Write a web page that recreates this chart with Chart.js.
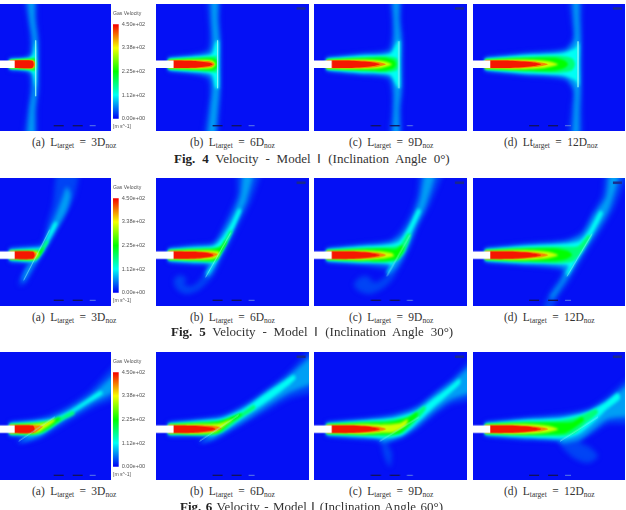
<!DOCTYPE html>
<html>
<head>
<meta charset="utf-8">
<title>Gas velocity contours</title>
<script src="https://cdn.jsdelivr.net/npm/chart.js@4/dist/chart.umd.min.js"></script>
<style>
html, body { margin: 0; padding: 0; background: #fff; overflow: hidden; width: 626px; height: 510px; }
#page { position: relative; width: 626px; height: 510px; overflow: hidden; }
.field { position: absolute; background: #0410f5; filter: blur(0.5px); }
.bar { position: absolute; }
.cap, .fig { position: absolute; font-family: "Liberation Serif", serif; color: #333; white-space: nowrap; }
.cap { font-size: 11.5px; word-spacing: 2.5px; }
.cap sub { font-size: 7.5px; vertical-align: -2px; line-height: 0; word-spacing: 0; }
.fig { font-size: 13px; word-spacing: 3.6px; }
.fig b { color: #222; }
.cb { position: absolute; font-family: "Liberation Sans", sans-serif; font-size: 5.1px; color: #555; white-space: nowrap; }
</style>
</head>
<body>
<div id="page"></div>
<script>
// contour levels of gas velocity, m/s; each field below holds one closed outline per level
// outlines are flat x,y lists, in mm from the nozzle tip
const contourLevels = [30, 70, 112, 170, 225, 320, 390, 440];

const fig4a = [
    [-5,6, 12,7, 15,14, 15,30, 13,45, 9,74, 21,74, 22,45, 24,25, 24,0, 24,-25, 22,-45, 21,-80, 9,-80, 13,-45, 15,-30, 15,-14, 12,-7, -5,-6],
    [-5,5, 12,6.5, 17,10, 18,25, 15,45, 13,74, 19,74, 20,45, 22.5,25, 23,0, 22.5,-25, 20,-45, 19,-80, 13,-80, 15,-45, 18,-25, 17,-10, 12,-6.5, -5,-5],
    [-5,4.5, 14,6, 18,9, 20,20, 21,24, 22,0, 21,-24, 20,-20, 18,-9, 14,-6, -5,-4.5],
    [-5,4.2, 15,5.5, 19,7, 21,6, 21.5,0, 21,-6, 19,-7, 15,-5.5, -5,-4.2],
    [-5,4, 16,5, 20,5, 21,0, 20,-5, 16,-5, -5,-4],
    [-5,3.8, 17,4.4, 20,3, 20.5,0, 20,-3, 17,-4.4, -5,-3.8],
    [-5,3.8, 17,4.1, 20,2.4, 20,-2.4, 17,-4.1, -5,-3.8],
    [-5,3.8, 17.5,3.6, 19,0, 17.5,-3.6, -5,-3.8]
];
const fig4b = [
    [-5,7, 20,10, 34,15, 36,30, 35,45, 34,74, 46,74, 46,45, 47,25, 47,0, 47,-25, 46,-45, 42,-80, 30,-80, 34,-45, 36,-30, 34,-15, 20,-10, -5,-7],
    [-5,6, 20,8.5, 36,12, 39,22, 38,45, 38,74, 44,74, 44,45, 46,22, 46,0, 46,-22, 44,-45, 40,-80, 34,-80, 37,-45, 39,-22, 36,-12, 20,-8.5, -5,-6],
    [-5,5.5, 20,7.5, 38,10, 42,22, 45,24, 45,0, 45,-24, 42,-24, 38,-10, 20,-7.5, -5,-5.5],
    [-5,5, 20,6.5, 38,8, 43,8, 44,0, 43,-8, 38,-8, 20,-6.5, -5,-5],
    [-5,4.5, 20,5.5, 38,6, 43,4, 43,-4, 38,-6, 20,-5.5, -5,-4.5],
    [-5,4, 20,4.6, 38,4, 42,0, 38,-4, 20,-4.6, -5,-4],
    [-5,3.9, 20,4, 38,2.6, 41,0, 38,-2.6, 20,-4, -5,-3.9],
    [-5,3.8, 20,3.4, 36,1.6, 39,0, 36,-1.6, 20,-3.4, -5,-3.8]
];
const fig4c = [
    [-5,7, 30,11, 56,15, 60,30, 60,45, 58,74, 69,74, 69,45, 71,25, 71,0, 71,-25, 69,-45, 69,-80, 58,-80, 60,-45, 60,-30, 56,-15, 30,-11, -5,-7],
    [-5,6, 30,9.5, 58,12.5, 62,25, 62,45, 61,74, 67,74, 67,45, 69,25, 69,0, 69,-25, 67,-45, 67,-80, 61,-80, 62,-45, 62,-25, 58,-12.5, 30,-9.5, -5,-6],
    [-5,5.5, 30,8.5, 58,10.5, 65,22, 68,24, 68,0, 68,-24, 65,-22, 58,-10.5, 30,-8.5, -5,-5.5],
    [-5,5, 30,7, 55,8, 65,6, 67,0, 65,-6, 55,-8, 30,-7, -5,-5],
    [-5,4.5, 30,6, 52,6.5, 62,4, 64,0, 62,-4, 52,-6.5, 30,-6, -5,-4.5],
    [-5,4.1, 30,4.8, 50,3.6, 60,0, 50,-3.6, 30,-4.8, -5,-4.1],
    [-5,3.9, 25,4, 45,2.6, 54,0, 45,-2.6, 25,-4, -5,-3.9],
    [-5,3.8, 20,3.6, 40,2, 48,0, 40,-2, 20,-3.6, -5,-3.8]
];
const fig4d = [
    [-5,7, 35,11.5, 75,16, 83,28, 81,45, 79,74, 91,74, 92,45, 92,25, 92,0, 92,-25, 92,-45, 91,-80, 79,-80, 81,-45, 83,-28, 75,-16, 35,-11.5, -5,-7],
    [-5,6, 35,10, 75,13.5, 84,24, 84,45, 83,74, 88,74, 89,45, 90,25, 90,0, 90,-25, 89,-45, 88,-80, 83,-80, 84,-45, 84,-24, 75,-13.5, 35,-10, -5,-6],
    [-5,5.5, 35,9, 72,11, 85,16, 89,22, 89,0, 89,-22, 85,-16, 72,-11, 35,-9, -5,-5.5],
    [-5,5, 35,7.5, 68,8.5, 82,6, 85,0, 82,-6, 68,-8.5, 35,-7.5, -5,-5],
    [-5,4.5, 35,6.2, 65,6.5, 75,3.5, 78,0, 75,-3.5, 65,-6.5, 35,-6.2, -5,-4.5],
    [-5,4.1, 30,4.9, 55,3.6, 68,0, 55,-3.6, 30,-4.9, -5,-4.1],
    [-5,3.9, 25,4, 48,2.4, 58,0, 48,-2.4, 25,-4, -5,-3.9],
    [-5,3.8, 20,3.6, 42,2, 51,0, 42,-2, 20,-3.6, -5,-3.8]
];
const fig5a = [
    [-5,7, 15,9, 27,12, 32,30, 38,50, 44,90, 64,90, 60,60, 50,40, 38,20, 28,2, 20,-12, 10,-29, 4,-30, 8,-18, 14,-9, -5,-7],
    [-5,6, 15,7.5, 28,9, 35,26, 42,42, 48,58, 52,68, 56,60, 52,44, 40,22, 28,2, 18,-12, 9,-26, 7,-25, 12,-12, 17,-7, -5,-6],
    [-5,5, 15,6.5, 27,8, 33,20, 40,33, 43,32, 35,16, 26,1, 20,-6, -5,-5],
    [-5,4.5, 18,5, 26,6, 31,14, 34,14, 27,2, 20,-5, -5,-4.5],
    [-5,4, 18,4.5, 25,4, 28,8, 29,6, 24,-2, 19,-4.5, -5,-4],
    [-5,3.9, 19,4, 24,3, 24,0, 20,-4, -5,-3.9],
    [-5,3.8, 19,3.8, 22,1, 19,-3.8, -5,-3.8],
    [-5,3.8, 18,3.6, 20,0, 18,-3.6, -5,-3.8]
];
const fig5b = [
    [-5,7, 20,10, 40,12.5, 48,26, 57,45, 63,60, 65,90, 88,90, 78,55, 68,35, 58,15, 48,-4, 40,-20, 33,-28, 25,-35, 13,-39, 4,-35, 0,-27, 2,-22, 8,-20, 13,-24, 10,-29, 18,-31, 26,-25, 33,-14, 38,-11, 20,-9, -5,-7],
    [-5,6, 20,9, 40,11, 50,24, 60,42, 67,60, 71,90, 81,90, 73,55, 64,35, 54,13, 45,-4, 38,-18, 32,-22, 34,-12, 36,-9, 20,-8, -5,-6],
    [-5,5.5, 20,7.5, 40,9, 48,16, 58,32, 65,46, 68,45, 60,26, 50,7, 42,-8, 34,-20, 33,-18, 39,-8, 20,-7, -5,-5.5],
    [-5,5, 20,6.5, 40,7.5, 48,10, 56,24, 59,24, 50,6, 44,-4, 40,-7, 20,-6, -5,-5],
    [-5,4.5, 20,5.5, 40,6, 47,8, 52,15, 53,12, 47,2, 42,-5, 20,-5, -5,-4.5],
    [-5,4, 20,4.6, 38,4.5, 46,3, 44,-2, 38,-4, 20,-4.6, -5,-4],
    [-5,3.9, 20,4, 38,2.8, 44,1, 38,-2.4, 20,-4, -5,-3.9],
    [-5,3.8, 20,3.4, 36,1.8, 40,0, 36,-1.8, 20,-3.4, -5,-3.8]
];
const fig5c = [
    [-5,7, 30,11, 58,15, 68,24, 78,40, 85,60, 90,90, 112,90, 98,50, 86,28, 78,8, 70,-8, 60,-25, 50,-34, 38,-39, 27,-36, 22,-29, 28,-22, 36,-21, 42,-27, 50,-24, 56,-16, 30,-10, -5,-7],
    [-5,6, 30,9.5, 58,12.5, 70,20, 80,36, 88,56, 95,90, 105,90, 94,50, 84,28, 75,6, 66,-10, 56,-20, 58,-11, 30,-8.5, -5,-6],
    [-5,5.5, 30,8.5, 58,10.5, 68,14, 78,30, 86,46, 89,44, 80,24, 72,4, 62,-8, 56,-19, 55,-17, 59,-9, 30,-7.5, -5,-5.5],
    [-5,5, 30,7, 55,8, 68,10, 76,22, 79,20, 72,2, 64,-6, 50,-7, 30,-6.5, -5,-5],
    [-5,4.5, 30,6, 52,6.5, 64,6, 71,10, 72,6, 66,-3, 60,-5, 50,-6, 30,-5.5, -5,-4.5],
    [-5,4.1, 30,4.8, 50,3.8, 60,2, 62,-1, 50,-3.6, 30,-4.8, -5,-4.1],
    [-5,3.9, 25,4, 45,2.6, 54,0, 45,-2.6, 25,-4, -5,-3.9],
    [-5,3.8, 20,3.6, 40,2, 48,0, 40,-2, 20,-3.6, -5,-3.8]
];
const fig5d = [
    [-5,7, 35,11.5, 75,15.5, 92,24, 102,42, 112,60, 117,90, 138,90, 125,48, 112,26, 100,8, 90,-8, 78,-28, 68,-42, 60,-58, 52,-58, 60,-36, 70,-22, 72,-15, 35,-10.5, -5,-7],
    [-5,6, 35,10, 75,13, 92,20, 104,40, 116,58, 121,90, 131,90, 120,48, 108,26, 96,8, 86,-8, 76,-24, 62,-44, 60,-42, 72,-24, 74,-13, 35,-9, -5,-6],
    [-5,5.5, 35,9, 72,11, 90,14, 100,26, 110,44, 113,42, 104,24, 94,6, 85,-8, 78,-20, 76,-19, 78,-10, 35,-8, -5,-5.5],
    [-5,5, 35,7.5, 68,8.5, 88,9, 98,20, 101,19, 92,4, 83,-6, 68,-8, 35,-6.5, -5,-5],
    [-5,4.5, 35,6.2, 65,6.5, 78,4, 82,0, 76,-4, 65,-6, 35,-6, -5,-4.5],
    [-5,4.1, 30,4.9, 55,3.6, 68,0, 55,-3.6, 30,-4.9, -5,-4.1],
    [-5,3.9, 25,4, 48,2.4, 58,0, 48,-2.4, 25,-4, -5,-3.9],
    [-5,3.8, 20,3.6, 42,2, 51,0, 42,-2, 20,-3.6, -5,-3.8]
];
const fig6a = [
    [-5,7, 20,10, 35,14, 55,24, 75,38, 110,72, 110,36, 80,22, 60,11, 40,-1, 25,-9, 15,-12, 4,-14, 3,-11, 10,-8, -5,-7],
    [-5,6, 20,8.5, 38,12, 58,22, 78,35, 110,62, 110,44, 78,26, 58,14, 40,3, 25,-7, 5,-13, 14,-7, -5,-6],
    [-5,5.5, 20,7.5, 38,10, 55,18, 72,29, 86,38, 88,35, 72,25, 55,14, 40,5, 25,-5, 14,-6, -5,-5.5],
    [-5,5, 20,6.5, 36,8.5, 48,13, 58,18, 60,15, 48,9, 30,-3, 18,-5, -5,-5],
    [-5,4.5, 20,5.5, 35,7.5, 44,12, 46,10, 30,-1, 20,-5, -5,-4.5],
    [-5,4, 18,5, 30,6.5, 40,10, 40,8, 26,-2, 20,-4, -5,-4],
    [-5,3.9, 18,4, 28,3, 24,-1, 19,-3.8, -5,-3.9],
    [-5,3.8, 18,3.6, 20,0, 18,-3.6, -5,-3.8]
];
const fig6b = [
    [-5,7, 25,10, 50,14, 72,25, 95,41, 115,57, 150,90, 150,42, 115,30, 95,19, 75,8, 55,-3, 40,-11, 26,-14, 25,-12, 36,-8, -5,-7],
    [-5,6, 25,9, 50,12.5, 72,23, 95,39, 115,53, 150,80, 150,52, 115,36, 95,24, 75,11, 55,-1, 40,-9, 28,-13, 36,-7, -5,-6],
    [-5,5.5, 25,8, 48,10.5, 70,20, 90,34, 108,46, 120,54, 122,50, 108,38, 90,25, 70,12, 55,2, 40,-6, 36,-6, -5,-5.5],
    [-5,5, 25,7, 48,9, 66,15, 80,24, 82,21, 66,10, 50,-2, 42,-5, 25,-5.5, -5,-5],
    [-5,4.5, 25,6, 45,7.5, 60,13, 68,16, 68,14, 55,5, 44,-4, 25,-5, -5,-4.5],
    [-5,4.1, 25,5, 45,5.5, 56,9, 60,10, 52,4, 42,-3, 25,-4.5, -5,-4.1],
    [-5,3.9, 25,4, 42,3, 48,1, 40,-2.4, 25,-4, -5,-3.9],
    [-5,3.8, 20,3.5, 38,1.8, 42,0, 36,-1.8, 20,-3.5, -5,-3.8]
];
const fig6c = [
    [-5,7, 35,11, 62,15, 85,23, 105,38, 120,50, 150,78, 150,34, 118,24, 100,12, 85,0, 70,-9, 56,-14, 60,-24, 58,-38, 52,-26, 48,-13, 30,-10, -5,-7],
    [-5,6, 35,9.5, 62,13, 85,21, 105,36, 120,47, 150,70, 150,42, 118,29, 100,16, 85,3, 70,-7, 50,-13, 48,-9, 30,-8.5, -5,-6],
    [-5,5.5, 35,8.5, 62,11, 85,18, 100,29, 115,40, 128,50, 128,45, 115,33, 100,20, 85,6, 70,-6, 50,-9, 30,-7.5, -5,-5.5],
    [-5,5, 35,7.5, 60,9.5, 80,14, 92,23, 94,20, 84,8, 72,-3, 60,-7, 35,-6.5, -5,-5],
    [-5,4.5, 35,6.2, 58,7, 75,11, 85,17, 86,14, 76,3, 68,-4, 55,-5, 35,-5.5, -5,-4.5],
    [-5,4.1, 32,5, 52,4.6, 68,6, 76,10, 74,4, 62,-3, 50,-3.6, 32,-4.8, -5,-4.1],
    [-5,3.9, 25,4, 45,2.6, 54,0, 45,-2.6, 25,-4, -5,-3.9],
    [-5,3.8, 20,3.6, 40,2, 48,0, 40,-2, 20,-3.6, -5,-3.8]
];
const fig6d = [
    [-5,7, 35,11.5, 75,15.5, 100,21, 118,33, 150,58, 150,8, 118,5, 105,-3, 90,-13, 100,-18, 108,-27, 98,-34, 84,-29, 72,-18, 68,-12, 35,-10.5, -5,-7],
    [-5,6, 35,10, 75,13, 100,19, 118,29, 150,50, 150,16, 118,10, 105,1, 90,-10, 72,-14, 68,-11, 35,-9, -5,-6],
    [-5,5.5, 35,9, 72,11, 98,17, 116,27, 128,36, 130,30, 116,19, 105,8, 90,-4, 76,-9, 35,-8, -5,-5.5],
    [-5,5, 35,7.5, 68,8.5, 90,13, 106,20, 108,16, 96,6, 85,-4, 70,-7, 35,-6.5, -5,-5],
    [-5,4.5, 35,6.2, 65,6.5, 82,7, 92,12, 94,9, 84,1, 75,-4, 65,-5, 35,-5.5, -5,-4.5],
    [-5,4.1, 30,4.9, 55,3.6, 68,0, 55,-3.6, 30,-4.9, -5,-4.1],
    [-5,3.9, 25,4, 48,2.4, 58,0, 48,-2.4, 25,-4, -5,-3.9],
    [-5,3.8, 20,3.6, 42,2, 51,0, 42,-2, 20,-3.6, -5,-3.8]
];

// target plates, as x,y of both ends
const plates = [
    [21,24, 21,-32], [44,24, 44,-24], [67,23, 67,-24], [88,23, 88,-23],
    [9,-25, 35,25], [32,-22, 57,22], [55,-21, 78,20], [77,-21, 102,21],
    [4,-12, 40,12], [26,-12, 65,14], [48,-12, 87,12], [70,-12, 108,12]
];
const nozzleWall = [-25,3.8, 0,3.8, 0,-3.8, -25,-3.8];
const ruleSpans = [[39,49], [58,68]];
const faintRuleSpan = [75,81];
const logoSpan = [123,132];

const fields = [fig4a, fig4b, fig4c, fig4d, fig5a, fig5b, fig5c, fig5d, fig6a, fig6b, fig6c, fig6d];

const colorbarRange = [0, 450];
const colorbarTicks = [0, 112.5, 225, 337.5, 450];
const colorbarLabels = ["0.00e+00", "1.12e+02", "2.25e+02", "3.38e+02", "4.50e+02"];

const captions = [
    ["(a)", "L", "target", "3D"], ["(b)", "L", "target", "6D"], ["(c)", "L", "target", "9D"], ["(d)", "Lt", "target", "12D"],
    ["(a)", "L", "target", "3D"], ["(b)", "L", "target", "6D"], ["(c)", "L", "target", "9D"], ["(d)", "L", "target", "12D"],
    ["(a)", "L", "target", "3D"], ["(b)", "L", "target", "6D"], ["(c)", "L", "target", "9D"], ["(d)", "L", "target", "12D"]
];
const figureTitles = [
    ["Fig. 4", "Velocity - Model \u2160 (Inclination Angle 0\u00b0)"],
    ["Fig. 5", "Velocity - Model \u2160 (Inclination Angle 30\u00b0)"],
    ["Fig. 6", "Velocity - Model \u2160 (Inclination Angle 60\u00b0)"]
];

// layout of the sheet
const rowTop = [4, 178.4, 352.4];
const rowAbove = [60.5, 76.7, 76.7];
const rowHeight = 127.4;
const colLeft = [-4, 155.7, 314, 472.7];
const colWidth = [115, 153, 152.7, 152.4];
const colTip = [18.7, 17.6, 17.7, 17.3];
const ruleY = [-61.6, -45, -46];
const logoY = [56, 72, 72];
const capLeft = [32, 190, 349, 504];
const capTop = [136, 311, 485];
const figLeft = [174, 171, 180];
const figTop = [151, 323.5, 498.5];
const figWordGap = [3.6, 3.6, 1.2];
// low contours are drawn softer so the plume fades out gradually
const layerBlur = [2.8, 2.2, 1.6, 1.2, 1, 0.9, 0.7, 0.6];

const page = document.getElementById("page");

function jet(v) {
    const t = v / 112.5;
    let r = 0, g = 0, b = 0;
    if (t < 1) { g = t; b = 1; }
    else if (t < 2) { g = 1; b = 2 - t; }
    else if (t < 3) { r = t - 2; g = 1; }
    else { r = 1; g = 4 - t; }
    return `rgb(${Math.round(r * 245)},${Math.round(g * 255)},${Math.round(b * 245)})`;
}

function toPoints(flat) {
    const pts = [];
    for (let i = 0; i < flat.length; i += 2) {
        pts.push({ x: flat[i], y: flat[i + 1] });
    }
    return pts;
}

function addCanvas(cls, left, top, w, h) {
    const c = document.createElement("canvas");
    c.className = cls;
    c.width = w;
    c.height = h;
    c.style.left = left + "px";
    c.style.top = top + "px";
    c.style.width = w + "px";
    c.style.height = h + "px";
    page.appendChild(c);
    return c;
}

function addText(cls, left, top, html) {
    const d = document.createElement("div");
    d.className = cls;
    d.style.left = left + "px";
    d.style.top = top + "px";
    d.innerHTML = html;
    page.appendChild(d);
    return d;
}

function stroke(flat, color, width) {
    return { data: toPoints(flat), borderColor: color, borderWidth: width, pointRadius: 0, fill: false, tension: 0, soft: 0.4 };
}

// the filler paints inside beforeDatasetDraw, so each layer's blur is set
// at the end of the layer before it
function setBlur(chart, i) {
    const d = chart.data.datasets[i];
    chart.ctx.filter = d && d.soft ? `blur(${d.soft}px)` : "none";
}
const softLayers = {
    id: "softLayers",
    beforeDatasetsDraw(chart) { setBlur(chart, 0); },
    afterDatasetDraw(chart, args) { setBlur(chart, args.index + 1); },
    afterDatasetsDraw(chart) { chart.ctx.filter = "none"; }
};

function drawPanel(row, col) {
    const idx = row * 4 + col;
    const layers = [];
    fields[idx].forEach((outline, i) => {
        layers.push({
            data: toPoints(outline),
            backgroundColor: jet(contourLevels[i]),
            borderWidth: 0,
            pointRadius: 0,
            fill: "shape",
            tension: 0.25,
            soft: layerBlur[i]
        });
    });
    layers.push(stroke(plates[idx], "rgba(150,250,250,0.65)", 0.9));
    layers.push({ data: toPoints(nozzleWall), backgroundColor: "#fff", borderWidth: 0, pointRadius: 0, fill: "shape", tension: 0, soft: 0.3 });
    const y = ruleY[row];
    ruleSpans.forEach(s => layers.push(stroke([s[0], y, s[1], y], "#12125a", 1.3)));
    layers.push(stroke([faintRuleSpan[0], y, faintRuleSpan[1], y], "#5d7be8", 1));
    if (col > 0) {
        layers.push(stroke([logoSpan[0], logoY[row], logoSpan[1], logoY[row]], "#1b2a8a", 2.4));
    }
    // chart.js paints the first dataset last, so order has to run backwards
    layers.forEach((d, i) => { d.order = layers.length - i; });

    const w = colWidth[col];
    const c = addCanvas("field", colLeft[col], rowTop[row], w, rowHeight);
    new Chart(c, {
        type: "line",
        data: { datasets: layers },
        plugins: [softLayers],
        options: {
            responsive: false,
            animation: false,
            layout: { padding: 0 },
            plugins: { legend: { display: false }, tooltip: { enabled: false } },
            scales: {
                x: { type: "linear", display: false, min: -colTip[col], max: w - colTip[col] },
                y: { type: "linear", display: false, min: rowAbove[row] - rowHeight, max: rowAbove[row] }
            }
        }
    });
}

function drawColorbar(row) {
    const top = rowTop[row];
    const c = addCanvas("bar", 108, top + 14, 44, 107);
    new Chart(c, {
        type: "bar",
        data: {
            labels: ["Gas Velocity"],
            datasets: [{
                data: [colorbarRange],
                barPercentage: 1,
                categoryPercentage: 1,
                backgroundColor: ctx => {
                    const area = ctx.chart.chartArea;
                    if (!area) return "#00f";
                    const g = ctx.chart.ctx.createLinearGradient(0, area.bottom, 0, area.top);
                    colorbarTicks.forEach(v => g.addColorStop(v / 450, jet(v)));
                    return g;
                }
            }]
        },
        options: {
            responsive: false,
            animation: false,
            layout: { padding: { top: 6, bottom: 6, left: 5 } },
            plugins: { legend: { display: false }, tooltip: { enabled: false } },
            scales: {
                x: { display: false },
                y: {
                    position: "right",
                    min: 0,
                    max: 450,
                    grid: { display: false, drawTicks: false },
                    border: { display: false },
                    afterBuildTicks: axis => { axis.ticks = colorbarTicks.map(v => ({ value: v })); },
                    afterFit: axis => { axis.width = 33.3; },
                    ticks: {
                        autoSkip: false,
                        maxRotation: 0,
                        padding: 3,
                        color: "#555",
                        font: { family: "Liberation Sans", size: 5.6 },
                        callback: v => colorbarLabels[colorbarTicks.indexOf(v)]
                    }
                }
            }
        }
    });
    addText("cb", 113, top + 6, "Gas Velocity");
    addText("cb", 113, top + 119, "[m s^-1]");
}

for (let row = 0; row < 3; row++) {
    for (let col = 0; col < 4; col++) {
        drawPanel(row, col);
        const cap = captions[row * 4 + col];
        addText("cap", capLeft[col], capTop[row],
            `${cap[0]} ${cap[1]}<sub>${cap[2]}</sub> = ${cap[3]}<sub>noz</sub>`);
    }
    drawColorbar(row);
    const t = addText("fig", figLeft[row], figTop[row], `<b>${figureTitles[row][0]}</b> ${figureTitles[row][1]}`);
    t.style.wordSpacing = figWordGap[row] + "px";
}
</script>
</body>
</html>
